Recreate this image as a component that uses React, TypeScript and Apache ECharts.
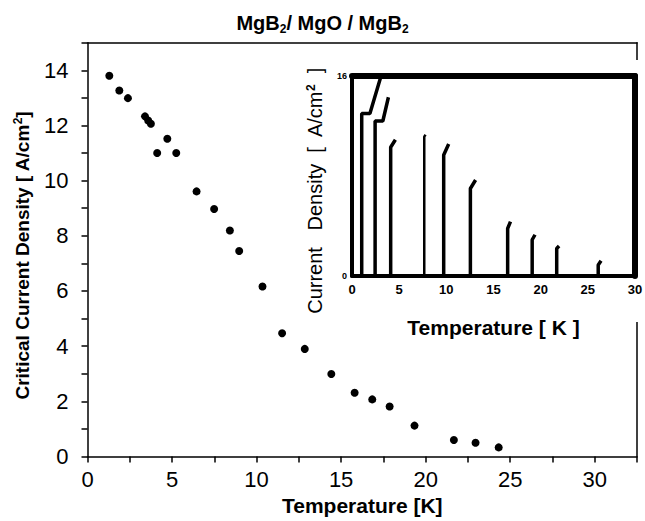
import React, { useEffect, useRef } from "react";
import * as echarts from "echarts";

// Main plot: critical current density vs temperature
const mainTemperature = [1.29, 1.88, 2.39, 3.4, 3.59, 3.75, 4.72, 4.12, 5.25, 6.45, 7.49, 8.42, 8.97, 10.35, 11.51, 12.85, 14.42, 15.8, 16.84, 17.87, 19.34, 21.67, 22.95, 24.32];
const mainJc = [13.8, 13.27, 12.99, 12.33, 12.18, 12.06, 11.52, 11.0, 11.0, 9.61, 8.97, 8.19, 7.45, 6.16, 4.47, 3.9, 2.99, 2.31, 2.07, 1.81, 1.12, 0.6, 0.5, 0.33];

// Inset: current density traces at each temperature
const insetTraceT = [
  [1.03, 1.03, 1.9, 3.0],
  [2.45, 2.45, 3.27, 3.86],
  [4.1, 4.1, 4.6],
  [7.66, 7.66, 7.8],
  [9.72, 9.72, 10.25],
  [12.55, 12.55, 13.1],
  [16.5, 16.5, 16.8],
  [19.1, 19.1, 19.4],
  [21.7, 21.7, 21.95],
  [26.1, 26.1, 26.4],
];
const insetTraceJ = [
  [0, 13.0, 13.0, 15.8],
  [0, 12.4, 12.4, 14.3],
  [0, 10.3, 10.9],
  [0, 11.15, 11.3],
  [0, 9.68, 10.56],
  [0, 7.0, 7.68],
  [0, 3.8, 4.35],
  [0, 2.9, 3.3],
  [0, 2.2, 2.4],
  [0, 0.88, 1.22],
];

const mainXTicks = [0, 5, 10, 15, 20, 25, 30];
const mainYTicks = [0, 2, 4, 6, 8, 10, 12, 14];
const insetXTicks = [0, 5, 10, 15, 20, 25, 30];
const insetYTicks = [0, 16];

const FONT = "'Liberation Sans', Arial, sans-serif";

export default function App() {
  const ref = useRef<HTMLDivElement>(null);
  useEffect(() => {
    if (!ref.current) return;
    const chart = echarts.init(ref.current, undefined, { renderer: "svg" });

    const insetSeries = insetTraceT.map((ts, i) => ({
      type: "line" as const,
      xAxisIndex: 2,
      yAxisIndex: 2,
      data: ts.map((t, j) => [t, insetTraceJ[i][j]]),
      symbol: "none",
      lineStyle: { color: "#000", width: i === 3 ? 2.5 : 3.5 },
      z: 61,
      silent: true,
    }));

    const option: any = {
      animation: false,
      backgroundColor: "#fff",
      title: {
        left: "center",
        top: 6,
        text: "{b|MgB}{s|2}{b|/ MgO / MgB}{s|2}",
        textStyle: {
          rich: {
            b: { fontFamily: FONT, fontSize: 20, fontWeight: "bold", color: "#000", lineHeight: 24 },
            s: { fontFamily: FONT, fontSize: 12, fontWeight: "bold", color: "#000", verticalAlign: "bottom", lineHeight: 14 },
          },
        },
      },
      grid: [
        { left: 87.5, right: 8, top: 42.7, bottom: 64.5, containLabel: false, outerBoundsMode: "none" },
        { left: 352, right: 10, top: 76, height: 200, containLabel: false, outerBoundsMode: "none" },
      ],
      xAxis: [
        {
          type: "value", gridIndex: 0, min: 0, max: 32.5, interval: 2.5,
          axisLine: { show: true, onZero: false, lineStyle: { color: "#000", width: 1.5 } },
          axisTick: { show: true, length: 6, lineStyle: { color: "#000", width: 1.5 } },
          axisLabel: {
            color: "#000", fontFamily: FONT, fontSize: 22, margin: 12,
            formatter: (v: number) => (mainXTicks.includes(v) ? String(v) : ""),
          },
          splitLine: { show: false },
          name: "Temperature [K]", nameLocation: "middle", nameGap: 38,
          nameTextStyle: { color: "#000", fontFamily: FONT, fontSize: 21, fontWeight: "bold" },
        },
        {
          type: "value", gridIndex: 0, position: "top", min: 0, max: 32.5,
          axisLine: { show: true, onZero: false, lineStyle: { color: "#000", width: 1.5 } },
          axisTick: { show: false }, axisLabel: { show: false }, splitLine: { show: false },
        },
        {
          type: "value", gridIndex: 1, min: 0, max: 30, interval: 5, z: 60,
          axisLine: { show: true, onZero: false, lineStyle: { color: "#000", width: 4 } },
          axisTick: { show: false },
          axisLabel: {
            color: "#000", fontFamily: FONT, fontSize: 13, fontWeight: "bold", margin: 7,
            formatter: (v: number) => (insetXTicks.includes(v) ? String(v) : ""),
          },
          splitLine: { show: false },
          name: "Temperature [ K ]", nameLocation: "middle", nameGap: 41,
          nameTextStyle: { color: "#000", fontFamily: FONT, fontSize: 21, fontWeight: "bold" },
        },
        {
          type: "value", gridIndex: 1, position: "top", min: 0, max: 30, z: 60,
          axisLine: { show: true, onZero: false, lineStyle: { color: "#000", width: 6 } },
          axisTick: { show: false }, axisLabel: { show: false }, splitLine: { show: false },
        },
      ],
      yAxis: [
        {
          type: "value", gridIndex: 0, min: 0, max: 15, interval: 1,
          axisLine: { show: true, onZero: false, lineStyle: { color: "#000", width: 1.5 } },
          axisTick: { show: true, length: 6, lineStyle: { color: "#000", width: 1.5 } },
          axisLabel: {
            color: "#000", fontFamily: FONT, fontSize: 22, margin: 19,
            formatter: (v: number) => (mainYTicks.includes(v) ? String(v) : ""),
          },
          splitLine: { show: false },
          name: "{b|Critical Current Density [ A/cm}{sup|2}{b|]}",
          nameLocation: "middle", nameGap: 54, nameRotate: 90,
          nameTextStyle: {
            padding: [0, 12, 0, 0],
            rich: {
              b: { fontFamily: FONT, fontSize: 19, fontWeight: "bold", color: "#000", lineHeight: 22 },
              sup: { fontFamily: FONT, fontSize: 12, fontWeight: "bold", color: "#000", verticalAlign: "top", lineHeight: 12 },
            },
          },
        },
        {
          type: "value", gridIndex: 0, position: "right", min: 0, max: 15,
          axisLine: { show: true, onZero: false, lineStyle: { color: "#000", width: 1.5 } },
          axisTick: { show: false }, axisLabel: { show: false }, splitLine: { show: false },
        },
        {
          type: "value", gridIndex: 1, min: 0, max: 16, interval: 16, z: 60,
          axisLine: { show: true, onZero: false, lineStyle: { color: "#000", width: 4 } },
          axisTick: { show: false },
          axisLabel: {
            color: "#000", fontFamily: FONT, fontSize: 9, fontWeight: "bold", margin: 5,
            formatter: (v: number) => (insetYTicks.includes(v) ? String(v) : ""),
          },
          splitLine: { show: false },
        },
        {
          type: "value", gridIndex: 1, position: "right", min: 0, max: 16, z: 60,
          axisLine: { show: true, onZero: false, lineStyle: { color: "#000", width: 6 } },
          axisTick: { show: false }, axisLabel: { show: false }, splitLine: { show: false },
        },
      ],
      graphic: [
        {
          type: "rect", z: 50, silent: true,
          shape: { x: 293, y: 60, width: 352, height: 262 },
          style: { fill: "#fff" },
        },
        {
          type: "text", z: 62, silent: true,
          x: 315, y: 191, rotation: Math.PI / 2,
          style: {
            text: "{a|Current   Density  [  A/cm}{s|2}{a|  ]}",
            align: "center", verticalAlign: "middle",
            rich: {
              a: { fontFamily: FONT, fontSize: 20, color: "#000", lineHeight: 20 },
              s: { fontFamily: FONT, fontSize: 12, fontWeight: "bold", color: "#000", verticalAlign: "top", lineHeight: 10 },
            },
          },
        },
      ],
      series: [
        {
          type: "scatter", xAxisIndex: 0, yAxisIndex: 0,
          data: mainTemperature.map((t, i) => [t, mainJc[i]]),
          symbol: "circle", symbolSize: 8,
          itemStyle: { color: "#000", opacity: 1 },
          z: 3, silent: true,
        },
        ...insetSeries,
      ],
    };
    chart.setOption(option);
    return () => chart.dispose();
  }, []);
  return (
    <div
      ref={ref}
      style={{ position: "fixed", left: 0, top: 0, width: 645, height: 521 }}
    />
  );
}
